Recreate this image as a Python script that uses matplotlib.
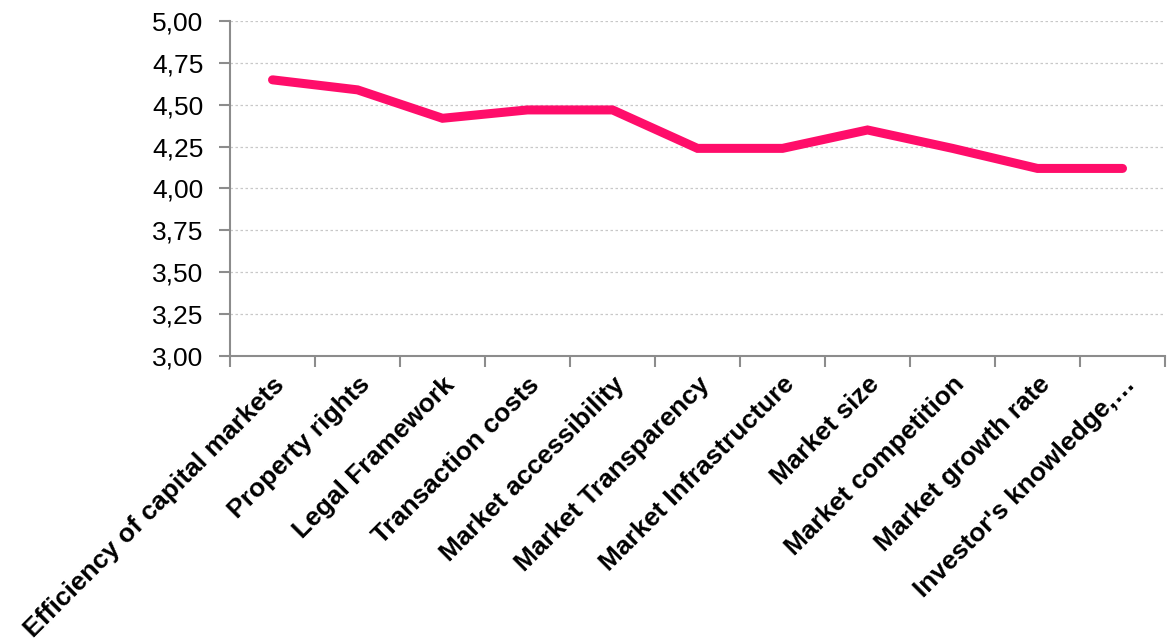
import matplotlib
matplotlib.use("Agg")
import matplotlib.pyplot as plt
from matplotlib.ticker import FixedLocator, FuncFormatter

categories = [
    "Efficiency of capital markets",
    "Property rights",
    "Legal Framework",
    "Transaction costs",
    "Market accessibility",
    "Market Transparency",
    "Market Infrastructure",
    "Market size",
    "Market competition",
    "Market growth rate",
    "Investor's knowledge,\u2026",
]
scores = [4.65, 4.59, 4.42, 4.47, 4.47, 4.24, 4.24, 4.35, 4.24, 4.12, 4.12]
y_ticks = [3.00, 3.25, 3.50, 3.75, 4.00, 4.25, 4.50, 4.75, 5.00]

plt.rcParams["font.family"] = ["Liberation Sans", "DejaVu Sans"]

fig = plt.figure(figsize=(11.67, 6.44), dpi=100)
ax = fig.add_axes([0.1971, 0.4477, 0.8012, 0.5192])

x = list(range(len(categories)))
ax.plot(x, scores, color="#FF0D6A", linewidth=6.5, solid_capstyle="round",
        solid_joinstyle="miter", zorder=3)

ax.set_xlim(-0.5, len(categories) - 0.5)
ax.set_ylim(y_ticks[0], y_ticks[-1])
ax.yaxis.set_major_locator(FixedLocator(y_ticks))
ax.yaxis.set_major_formatter(FuncFormatter(lambda v, _: f"{v:.2f}".replace(".", ",")))

# category ticks sit on the boundaries between categories
ax.set_xticks([i - 0.5 for i in range(len(categories) + 1)])
ax.set_xticklabels([])
ax.set_xticks(x, minor=True)
ax.set_xticklabels(categories, minor=True, rotation=45, ha="right", va="top",
                   rotation_mode="anchor", fontsize=19, fontweight="bold")
ax.tick_params(axis="x", which="minor", length=0, pad=12)
ax.tick_params(axis="x", which="major", length=8, width=1.5, color="#8c8c8c", direction="out")
ax.tick_params(axis="y", length=8, width=1.5, color="#8c8c8c", direction="out",
               labelsize=19, pad=11)

ax.grid(axis="y", linestyle=(0, (2, 2)), color="#c8c8c8", linewidth=0.9)
ax.set_axisbelow(True)

for side in ("top", "right"):
    ax.spines[side].set_visible(False)
for side in ("left", "bottom"):
    ax.spines[side].set_color("#8c8c8c")
    ax.spines[side].set_linewidth(1.5)

fig.savefig("out.png", dpi=100)
